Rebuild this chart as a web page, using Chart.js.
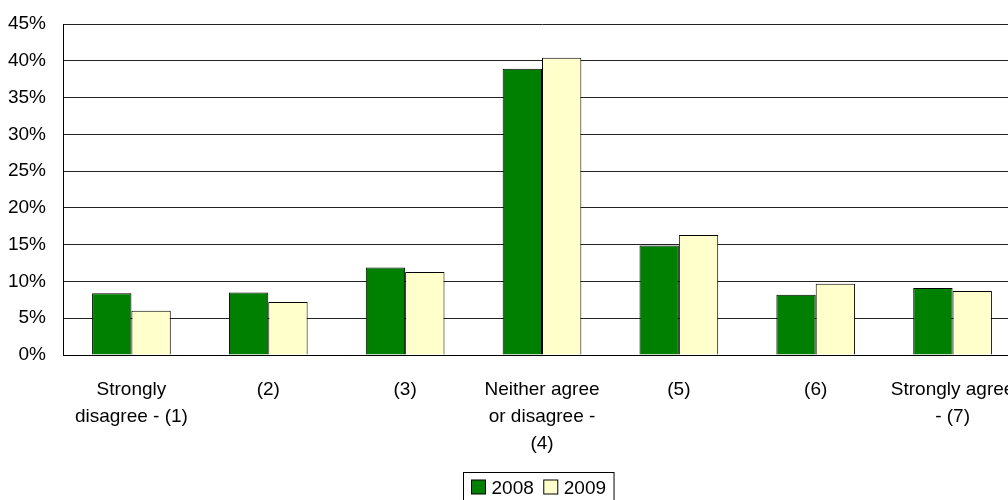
<!DOCTYPE html>
<html>
<head>
<meta charset="utf-8">
<script src="https://cdn.jsdelivr.net/npm/chart.js@4"></script>
<style>
  html, body { margin: 0; padding: 0; background: #fff; overflow: hidden; }
  #wrap { position: absolute; left: 0; top: 0; width: 1030px; height: 500px; }
</style>
</head>
<body>
<div id="wrap"><canvas id="c"></canvas></div>
<script>
// Survey responses by agreement level, share of respondents (%)
const categories = [
  ['Strongly', 'disagree - (1)'],
  '(2)',
  '(3)',
  ['Neither agree', 'or disagree -', '(4)'],
  '(5)',
  '(6)',
  ['Strongly agree', '- (7)']
];
const seriesNames = ['2008', '2009'];
const values2008 = [8.4, 8.5, 11.9, 38.9, 14.9, 8.2, 9.1];
const values2009 = [6.0, 7.2, 11.3, 40.4, 16.3, 9.7, 8.7];
const yTicks = [0, 5, 10, 15, 20, 25, 30, 35, 40, 45];

const FONT = { family: '"Liberation Sans", Arial, sans-serif', size: 19 };
const colors = ['#008000', '#FFFFCC'];

// Boxed legend drawn under the plot
const boxedLegend = {
  id: 'boxedLegend',
  afterDraw(chart) {
    const ctx = chart.ctx;
    const ds = chart.data.datasets;
    ctx.save();
    ctx.font = FONT.size + 'px ' + FONT.family;
    const sw = 14, gapSw = 6, gapItem = 10, pad = 8;
    let total = pad * 2;
    ds.forEach((d, i) => {
      total += sw + gapSw + ctx.measureText(d.label).width + (i < ds.length - 1 ? gapItem : 0);
    });
    const cx = 538;
    const x0 = Math.round(cx - total / 2) + 0.5;
    const y0 = 472.5, h = 34;
    ctx.strokeStyle = '#000';
    ctx.lineWidth = 1;
    ctx.strokeRect(x0, y0, total, h);
    let x = x0 + pad;
    ctx.textBaseline = 'alphabetic';
    ds.forEach((d) => {
      ctx.fillStyle = d.backgroundColor;
      ctx.fillRect(x, 480, sw, sw);
      ctx.strokeStyle = '#000';
      ctx.strokeRect(x, 480, sw, sw);
      x += sw + gapSw;
      ctx.fillStyle = '#000';
      ctx.fillText(d.label, x, 494);
      x += ctx.measureText(d.label).width + gapItem;
    });
    ctx.restore();
  }
};

new Chart(document.getElementById('c'), {
  type: 'bar',
  data: {
    labels: categories,
    datasets: [
      { label: seriesNames[0], data: values2008, backgroundColor: colors[0], borderColor: '#000', borderWidth: 1, borderSkipped: 'bottom' },
      { label: seriesNames[1], data: values2009, backgroundColor: colors[1], borderColor: '#000', borderWidth: 1, borderSkipped: 'bottom' }
    ]
  },
  options: {
    responsive: true,
    maintainAspectRatio: false,
    animation: false,
    layout: { padding: { left: 0, right: 9, top: 24, bottom: 45 } },
    plugins: {
      legend: { display: false },
      tooltip: { enabled: false }
    },
    datasets: {
      bar: { categoryPercentage: 0.575, barPercentage: 1.0 }
    },
    scales: {
      x: {
        grid: { display: false, drawTicks: false },
        border: { display: true, color: '#000', width: 1 },
        ticks: { color: '#000', font: { ...FONT, lineHeight: 1.42 }, padding: 21, maxRotation: 0, autoSkip: false },
        afterFit(axis) { axis.height = 100; axis.paddingLeft = 0; axis.paddingRight = 0; }
      },
      y: {
        min: 0,
        max: 45,
        afterBuildTicks(axis) { axis.ticks = yTicks.map(v => ({ value: v })); },
        grid: { color: '#222', lineWidth: 1, drawTicks: false },
        border: { display: true, color: '#000', width: 1 },
        ticks: { color: '#000', font: FONT, padding: 17, callback: v => v + '%' },
        afterFit(axis) { axis.width = 63; axis.paddingTop = 0; axis.paddingBottom = 0; }
      }
    }
  },
  plugins: [boxedLegend]
});
</script>
</body>
</html>
